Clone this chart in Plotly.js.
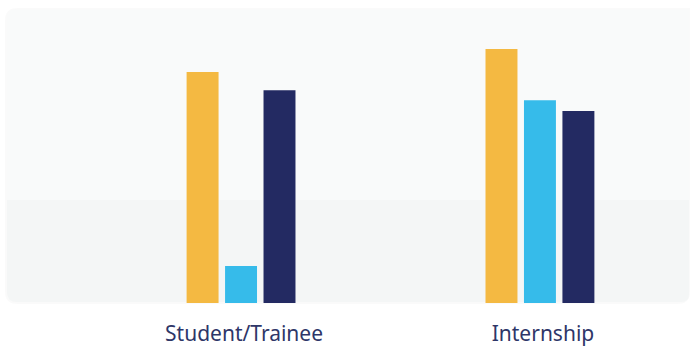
<!DOCTYPE html>
<html>
<head>
<meta charset="utf-8">
<script src="https://cdn.plot.ly/plotly-3.0.1.min.js"></script>
<style>
html,body{margin:0;padding:0;background:#fff;}
#chart{width:690px;height:347px;}
</style>
</head>
<body>
<div id="chart"></div>
<script>
// Data
const categories = ["Student/Trainee", "Internship"];
const seriesA = [78.6, 86.4];   // orange
const seriesB = [12.6, 69.0];   // light blue
const seriesC = [72.4, 65.3];   // navy
const seriesNames = ["A", "B", "C"];
const seriesColors = ["#F4B942", "#36BBEA", "#232A62"];

const W = 690, H = 347;
const margin = {l: 7, r: 0, t: 9, b: 44};
const pw = W - margin.l - margin.r, ph = H - margin.t - margin.b;
const px = x => (x - margin.l) / pw;
const py = y => (H - margin.b - y) / ph;

function roundedPath(x0, y0, x1, y1, rTL, rTR, rBR, rBL) {
  const P = (x, y) => px(x).toFixed(5) + "," + py(y).toFixed(5);
  let d = "M" + P(x0 + rTL, y0);
  d += " L" + P(x1 - rTR, y0);
  if (rTR) d += " Q" + P(x1, y0) + " " + P(x1, y0 + rTR);
  d += " L" + P(x1, y1 - rBR);
  if (rBR) d += " Q" + P(x1, y1) + " " + P(x1 - rBR, y1);
  d += " L" + P(x0 + rBL, y1);
  if (rBL) d += " Q" + P(x0, y1) + " " + P(x0, y1 - rBL);
  d += " L" + P(x0, y0 + rTL);
  if (rTL) d += " Q" + P(x0, y0) + " " + P(x0 + rTL, y0);
  return d + " Z";
}

const shapes = [
  {type: "path", xref: "paper", yref: "paper", layer: "below",
   path: roundedPath(5, 8, 690, 304, 12, 0, 12, 12),
   fillcolor: "rgba(0,0,0,0.018)", line: {width: 0}},
  {type: "path", xref: "paper", yref: "paper", layer: "below",
   path: roundedPath(7, 9, 689, 200, 10, 0, 0, 0),
   fillcolor: "#f9fafa", line: {width: 0}},
  {type: "path", xref: "paper", yref: "paper", layer: "below",
   path: roundedPath(7, 200, 689, 302, 0, 0, 8, 10),
   fillcolor: "#f4f6f6", line: {width: 0}}
];

const values = [seriesA, seriesB, seriesC];
const data = values.map((v, i) => ({
  type: "bar", x: categories, y: v, name: seriesNames[i],
  marker: {color: seriesColors[i], line: {width: 0}},
  hoverinfo: "skip"
}));

const layout = {
  width: W, height: H, margin: margin,
  paper_bgcolor: "rgba(0,0,0,0)", plot_bgcolor: "rgba(0,0,0,0)",
  showlegend: false, barmode: "group", bargap: 0.614, bargroupgap: 0.169,
  xaxis: {range: [-0.783, 1.502], showgrid: false, zeroline: false, showline: false,
          ticks: "", tickfont: {family: "Noto Sans", size: 21, color: "#2E3668"},
          ticklabelshift: 3, ticklabelstandoff: 16, fixedrange: true},
  yaxis: {range: [0, 100], visible: false, fixedrange: true},
  shapes: shapes
};

Plotly.newPlot("chart", data, layout, {displayModeBar: false, staticPlot: true});
</script>
</body>
</html>
